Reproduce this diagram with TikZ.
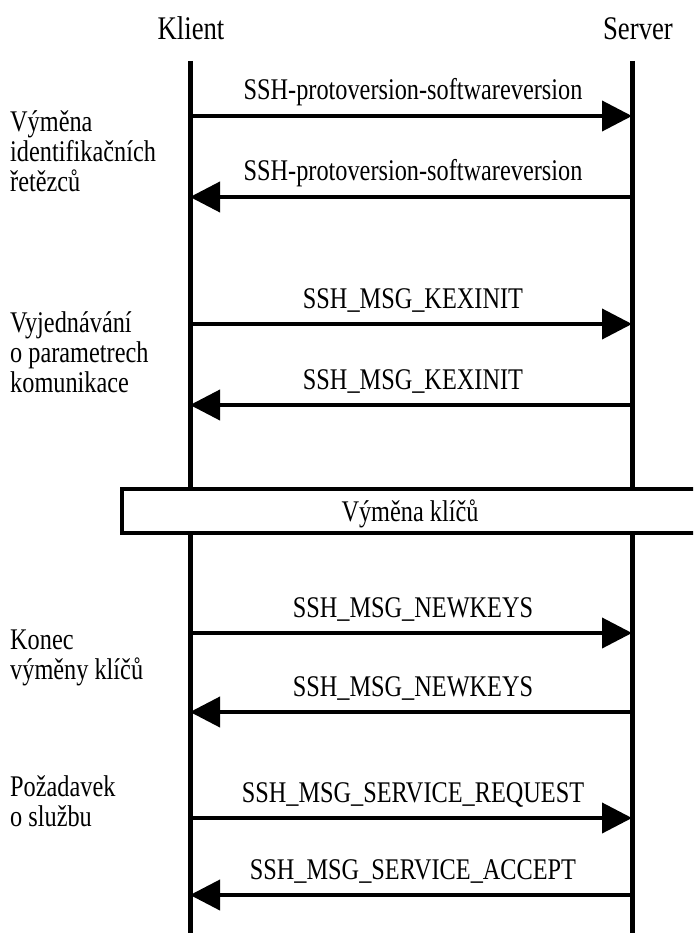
\documentclass[tikz,border=0pt]{standalone}
\usepackage{fontspec}
\setmainfont{Liberation Serif}[FakeStretch=0.81]
\usetikzlibrary{arrows.meta}
\begin{document}
\begin{tikzpicture}[x=1pt,y=-1pt,
  every node/.style={font=\fontsize{30}{30}\selectfont, inner sep=0pt},
  header/.style={anchor=base, font=\fontsize{33}{33}\selectfont},
  lifeline/.style={line width=5pt},
  msg/.style={line width=4pt, -{Triangle[length=30pt,width=30pt]}},
  msglabel/.style={anchor=base},
  sidelabel/.style={anchor=base west, align=left},
  phasebox/.style={draw, line width=4pt, fill=white}]
\useasboundingbox (0,0) rectangle (693,933);
\clip (0,0) rectangle (693,933);
% headers
\node[header] (klient) at (191,40) {Klient};
\node[header] (server) at (638,40) {Server};
% lifelines
\coordinate (ktop) at (190,61);
\coordinate (kbot) at (190,940);
\coordinate (stop) at (632,61);
\coordinate (sbot) at (632,940);
\draw[lifeline] (ktop) -- (kbot);
\draw[lifeline] (stop) -- (sbot);
% messages
\foreach \i/\y/\dir/\txt in {
  1/116/r/SSH-protoversion-softwareversion,
  2/197/l/SSH-protoversion-softwareversion,
  3/324/r/SSH\_MSG\_KEXINIT,
  4/405/l/SSH\_MSG\_KEXINIT,
  5/633/r/SSH\_MSG\_NEWKEYS,
  6/712/l/SSH\_MSG\_NEWKEYS,
  7/818/r/SSH\_MSG\_SERVICE\_REQUEST,
  8/895/l/SSH\_MSG\_SERVICE\_ACCEPT}{
  \coordinate (k\i) at (190,\y);
  \coordinate (s\i) at (632,\y);
  \node[msglabel] (m\i) at (413,\y-16) {\txt};
  \if r\dir
    \draw[msg] (k\i) -- (s\i);
  \else
    \draw[msg] (s\i) -- (k\i);
  \fi
}
% side labels (anchored at the baseline of the last line)
\node[sidelabel] (p1) at (10,192) {Výměna\\identifikačních\\řetězců};
\node[sidelabel] (p2) at (10,392) {Vyjednávání\\o parametrech\\komunikace};
\node[sidelabel] (p4) at (10,679) {Konec\\výměny klíčů};
\node[sidelabel] (p5) at (10,826) {Požadavek\\o službu};
% key exchange box
\draw[phasebox] (122,489) rectangle (710,533);
\node[anchor=base] (kx) at (410,521) {Výměna klíčů};
\end{tikzpicture}
\end{document}
